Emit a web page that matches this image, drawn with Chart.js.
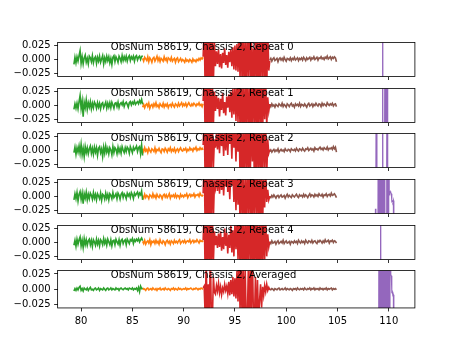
<!DOCTYPE html>
<html>
<head>
<meta charset="utf-8">
<script src="https://cdn.jsdelivr.net/npm/chart.js@4"></script>
<style>
body { margin: 0; background: #fff; }
#wrap { position: relative; width: 461px; height: 346px; overflow: hidden; background: #fff; }
canvas { position: absolute; left: 0; }
</style>
</head>
<body>
<div id="wrap"></div>
<script>
// channel grid of each band (GHz)
const bandStart = [79.3, 86.0, 91.9, 98.4, 108.5];
const bandStep = [0.1, 0.1, 0.1, 0.1, 0.05];
const bandColors = ["#2ca02c", "#ff7f0e", "#d62728", "#8c564b", "#9467bd"];
const bandWidths = [1.6, 1.6, 1.6, 1.6, 1.1];

const panelTitles = [
  "ObsNum 58619, Chassis 2, Repeat 0",
  "ObsNum 58619, Chassis 2, Repeat 1",
  "ObsNum 58619, Chassis 2, Repeat 2",
  "ObsNum 58619, Chassis 2, Repeat 3",
  "ObsNum 58619, Chassis 2, Repeat 4",
  "ObsNum 58619, Chassis 2, Averaged",
];
const xTicks = [80, 85, 90, 95, 100, 105, 110];
const yTicks = [-0.025, 0, 0.025];

// spectra, in units of 1e-3
const green0 = [-9,4,-6,5,-3,7,16,-7,5,-8, 3,8,-5,2,-8,6,3,-4,7,-6, 2,5,-7,4,-3,6,-5,1,7,-8, 3,-4,6,-2,5,-6,2,-9,4,7, -4,5,1,-5,6,2,-4,7,-2,5, -1,6,-3,4,7,-2,5,1,6,-3, 5,7,-1,4,6,0,5,7];
const orange0 = [2,-3,4,1,-2,5,-4,3,0,-5, 2,4,-3,1,6,-2,3,-4,2,0, -3,5,-1,2,-4,3,1,-2,4,-3, 0,2,-5,1,3,-4,-1,2,-3,0, -2,-5,1,-3,-1,-4,0,-2,-5,1, -3,-1,-4,0,-2,2,-1,3,1,4];
const red0 = [5,60,-60,55,-58,62,-50,58,-65,45,-40,30, -12,15,-8,18,-14,10,-16,12,-6,20,-10,8,-15,14,-5,18,-12,22,-18,25,-20,28,-22, 40,-35,50,-45,60,-55,35,-60,58,-30,62,-48,55,-62,20,-58,60,-40,52,-65,45,-50,58,-38,62,-55,48,-60,55,-20,-2];
const brown0 = [-1,2,-3,1,3,-2,0,2,-4,1, 3,-1,2,-2,4,0,-3,2,1,-1, 3,-2,2,0,4,-1,1,3,-2,2, 0,3,-1,4,1,-2,3,0,2,4, -1,3,1,5,0,2,4,-1,3,2, 5,1,3,0,4,2,6,1,3,5, 0,4,2,5,3,-4];
const purple0 = [
  -300,-300,-300,-300,-300,-300,-300,-300,-300,-300,
  -300,-300,-300,-300,-300,-300,-300,-300,300,-300,
  -300,-300,-300,-300,-300,-300,-300,-300,-300,-300,
  -300,-300,-300,-300,-300,-300,-300,-300,-300,-300,
  -300,-300,-300,-300,-300,-300,-300,-300,-300,-300];

const green1 = [-7,3,-5,4,-6,7,18,-5,8,-20, 6,-4,10,-7,5,-3,7,-6,4,-4, 6,2,-5,5,-3,4,-6,3,5,-4, 1,6,-5,4,-3,5,-4,6,1,-5, 4,5,-2,6,-4,3,5,1,7,-2, 4,6,2,-3,5,7,1,6,3,8, 2,5,7,3,9,5,11,2];
const orange1 = [-3,2,-4,1,3,-2,4,-5,0,2, -3,3,-1,5,-2,1,-4,3,0,-2, 4,-3,2,-1,3,-4,1,2,-2,4, 0,-3,3,1,-2,4,-1,2,5,-1, 3,0,4,-2,2,5,1,-1,3,0, 4,2,-1,3,1,5,0,2,-2,3];
const red1 = [8,55,-62,60,-48,65,-58,50,-60,42,-35,25, -10,18,-6,14,-20,12,-8,22,-14,6,-18,16,-4,20,-12,25,-22,30,-16,35,-28,40,-30, 55,-45,62,-60,38,-65,58,-40,60,-55,30,-62,50,-58,65,-35,48,-60,55,-45,62,-50,40,-58,60,-25,45,-38,15,-10,3];
const brown1 = [2,-2,3,-1,1,-3,2,0,-2,3, 1,-1,4,-2,2,0,-3,3,1,-2, 2,4,-1,1,-3,3,0,2,-1,4, -2,2,1,-1,3,0,-3,2,4,-1, 1,3,-2,2,0,4,1,-1,3,2, -2,4,0,3,1,-1,5,2,0,3, 1,4,-1,2,3,-2];
const purple1 = [
  -300,-300,-300,-300,-300,-300,-300,-300,-300,-300,
  -300,-300,-300,-300,-300,-300,-300,-300,300,-300,
  -300,-300,-300,300,-300,-300,-300,300,-300,-300,
  -300,-300,-300,-300,-300,-300,-300,-300,-300,-300,
  -300,-300,-300,-300,-300,-300,-300,-300,-300,-300];

const green2 = [-4,6,-7,5,-3,8,-5,11,-8,4, -11,7,-4,5,-6,3,8,-5,4,-7, 6,-3,5,-9,4,7,-4,3,-11,6, -5,8,-3,4,-6,5,1,-8,7,-4, 5,2,-6,6,-3,4,-5,7,1,-4, 5,-2,6,3,-5,7,2,-4,6,1, 4,8,-2,5,7,-6,10,-9];
const orange2 = [3,-2,5,-1,2,-4,4,0,-3,3, 1,-2,5,-3,2,0,4,-1,-4,3, 2,-2,4,1,-3,3,0,5,-2,2, -1,4,-3,1,3,-2,2,5,0,-1, 3,1,4,-2,2,0,5,1,3,-1, 4,2,6,0,3,1,5,2,4,1];
const red2 = [10,58,-60,62,-55,50,-62,60,-45,55,-30,20, 5,30,2,35,-5,40,8,32,-10,38,0,45,-8,36,12,42,-15,50,5,38,-20,45,-2, 60,-50,55,-62,40,-58,62,-35,50,-60,58,-45,65,-20,55,-62,48,-55,60,-40,62,-58,35,-50,55,-30,40,-45,20,-5,2];
const brown2 = [-2,1,-3,0,2,-2,1,-1,3,-3, 0,2,-1,1,-2,3,0,-1,2,1, -2,3,1,0,2,-1,4,1,-1,3, 2,0,4,1,-1,3,2,5,0,2, 4,1,3,-1,5,2,3,1,4,6, 2,4,1,5,3,2,6,1,4,3, 5,2,7,3,6,-3];
const purple2 = [
  -300,-300,-300,-300,-300,-300,300,-300,-300,-300,
  -300,-300,-300,-300,-300,-300,-300,-300,300,-300,
  -300,-300,-300,-300,-300,-300,-300,300,-300,-300,
  -300,-300,-300,-300,-300,-300,-300,-300,-300,-300,
  -300,-300,-300,-300,-300,-300,-300,-300,-300,-300];

const green3 = [-6,5,-4,7,-8,4,9,-5,6,-13, 5,-3,8,-6,4,-4,6,2,-5,7, -3,4,-6,5,1,-4,6,-7,4,2, -5,6,-3,4,-6,5,2,-4,7,-2, 1,5,-4,6,2,-5,4,7,-2,5, 2,-4,6,1,5,-2,7,3,-4,6, 2,5,8,0,6,3,10,-6];
const orange3 = [1,-3,4,-2,2,0,-4,3,1,-2, 5,-1,2,-3,4,0,-2,3,1,-4, 2,4,-1,3,-2,1,5,-3,2,0, 3,-1,4,-2,2,1,-3,4,0,2, -1,3,1,5,-2,2,4,0,3,1, 5,-1,3,2,4,0,6,2,1,3];
const red3 = [6,62,-58,55,-62,48,-60,58,-50,60,-40,25, 15,40,10,45,5,50,12,38,2,42,18,55,8,36,-5,45,20,52,-10,40,-25,48,-15, 58,-55,62,-40,50,-62,35,-58,60,-30,55,-60,45,-50,62,-45,58,-35,50,-62,40,-55,60,-48,30,-20,45,-10,12,-6,1];
const brown3 = [0,-2,2,-1,3,0,-3,1,2,-2, 1,3,-1,0,2,-3,1,4,-1,2, 0,-2,3,1,-1,2,4,0,-2,3, 1,2,-1,4,0,3,1,-2,2,5, 0,3,2,-1,4,1,3,0,5,2, 1,4,-1,3,2,5,0,3,4,1, 6,2,3,5,2,-2];
const purple3 = [
  -300,-300,-300,-300,-22,-300,-300,-300,-300,-300,
  300,-300,300,-300,300,-300,300,-300,300,-300,
  300,-300,300,-300,-300,-300,300,-300,300,-300,
  300,8,6,9,7,5,-9,-8,-10,-7,
  -300,-300,-300,-300,-300,-300,-300,-300,-300,-300];

const green4 = [-5,4,-7,6,-3,5,10,-6,4,-9, 7,-4,5,-5,3,6,-4,4,-7,5, 1,-5,6,-3,4,-6,5,2,-4,7, -2,4,-5,6,1,-4,5,-6,3,4, -4,6,1,-3,5,-5,4,6,-2,3, 5,-4,6,2,-2,5,3,7,-2,5, 2,6,3,7,1,5,8,3];
const orange4 = [2,-2,4,-3,1,3,-1,5,-4,2, 0,3,-2,4,-1,2,-3,5,0,-2, 3,1,-4,2,4,-1,2,-3,3,1, -2,4,0,2,-1,3,5,-2,1,3, 0,4,-1,2,3,1,5,-1,2,4, 0,3,1,5,2,-1,4,2,3,1];
const red4 = [4,58,-62,60,-55,62,-48,55,-60,50,-35,20, -5,12,-10,16,-8,20,-15,10,-12,25,-6,18,-20,14,-10,30,-18,22,-25,35,-12,40,-30, 55,-60,62,-45,58,-62,40,-55,60,-50,65,-38,48,-62,55,-58,60,-42,50,-60,35,-48,62,-55,45,-30,40,-25,15,-8,2];
const brown4 = [1,-2,3,-1,0,2,-3,1,3,-2, 0,2,-1,4,-2,1,3,-1,0,2, -3,2,1,-1,3,0,2,-2,4,1, -1,3,0,2,-2,4,1,-1,3,2, 0,4,-1,2,3,0,-2,3,1,4, 2,-1,3,0,5,1,2,4,-1,3, 2,4,0,3,2,-1];
const purple4 = [
  -300,-300,-300,-300,-300,-300,-300,-300,-300,-300,
  -300,-300,-300,-300,300,-300,-300,-300,-300,-300,
  -300,-300,-300,-300,-300,-300,-300,-300,-300,-300,
  -300,-300,-300,-300,-300,-300,-300,-300,-300,-300,
  -300,-300,-300,-300,-300,-300,-300,-300,-300,-300];

const green5 = [-3,1,-2,2,-1,3,5,-2,1,-3, 2,0,-1,2,-2,1,3,-1,0,-2, 1,2,-1,0,2,-2,1,0,-1,2, 0,-2,1,2,-1,0,2,-1,1,0, -1,2,0,1,-2,1,2,0,-1,1, 2,0,1,-1,2,1,0,2,-1,1, 0,2,-2,3,-4,5,1,2];
const orange5 = [-1,1,0,-2,1,2,-1,0,1,-1, 2,0,-1,1,-2,1,0,2,-1,0, 1,-1,2,0,-1,1,0,-2,1,0, 2,-1,1,0,-1,2,0,1,-1,0, 1,0,2,-1,1,0,1,2,0,-1, 1,0,2,1,-1,1,0,2,1,0];
const red5 = [2,5,-45,50,-60,8,-55,62,-40,-50,20,-5, -8,6,-3,10,-6,4,-9,2,-4,8,-2,5,-7,12,-10,15,-8,20,-12,18,-15,30,-20, 45,-35,50,-55,40,-62,35,-50,-60,30,-58,55,-45,60,-40,-55,20,-62,15,-48,-20,8,-30,4,-10,6,-4,8,-2,3,-1];
const brown5 = [0,-1,1,0,-2,1,0,-1,1,2, -1,0,1,-1,0,2,-1,1,0,-1, 1,0,-2,1,0,1,-1,2,0,-1, 1,0,1,-1,2,0,-1,1,0,2, -1,1,0,2,-1,1,0,1,-1,2, 0,1,-1,1,0,2,-1,1,0,1, 2,-1,1,0,1,-1];
const purple5 = [
  -300,-300,-300,-300,-300,-300,-300,-300,-300,-300,
  -300,300,-300,300,-300,300,-300,300,-300,300,
  -300,300,-300,300,-300,300,-300,-300,-300,300,
  -300,300,-300,300,24,22,-5,-4,-10,-9,
  -300,-300,-300,-300,-300,-300,-300,-300,-300,-300];

const panels = [
  [green0, orange0, red0, brown0, purple0],
  [green1, orange1, red1, brown1, purple1],
  [green2, orange2, red2, brown2, purple2],
  [green3, orange3, red3, brown3, purple3],
  [green4, orange4, red4, brown4, purple4],
  [green5, orange5, red5, brown5, purple5],
];

// figure geometry (matplotlib default subplot params)
const W = 461, H = 346;
const axLeft = 0.125 * W, axRight = 0.9 * W;
const axTop = 0.12 * H, axBottom = 0.89 * H;
const hspace = 0.2;
const ph = (axBottom - axTop) / (panels.length + (panels.length - 1) * hspace);
const gap = ph * hspace;

Chart.defaults.font.family = "'DejaVu Sans'";
Chart.defaults.font.size = 10;
Chart.defaults.color = "#000";

const framePlugin = {
  id: "panelFrame",
  afterDatasetsDraw(chart, args, opts) {
    const { ctx, chartArea: a } = chart;
    ctx.save();
    ctx.strokeStyle = "#000";
    ctx.lineWidth = 0.8;
    ctx.strokeRect(a.left, a.top, a.right - a.left, a.bottom - a.top);
    ctx.fillStyle = "#000";
    ctx.font = "10px 'DejaVu Sans'";
    ctx.textAlign = "left";
    ctx.textBaseline = "alphabetic";
    ctx.fillText(opts.title, chart.scales.x.getPixelForValue(opts.titleX), a.top + 7.6);
    ctx.restore();
  },
};

const wrap = document.getElementById("wrap");

panels.forEach((bands, p) => {
  const isLast = p === panels.length - 1;
  const T = axTop + p * (ph + gap);
  const cTop = Math.floor(T) - 8;
  const padTop = T - cTop;
  const cH = Math.ceil(padTop + ph + (isLast ? 30 : 6));
  const xH = cH - padTop - ph;

  const cv = document.createElement("canvas");
  cv.width = W;
  cv.height = cH;
  cv.style.top = cTop + "px";
  cv.style.width = W + "px";
  cv.style.height = cH + "px";
  wrap.appendChild(cv);

  const datasets = bands.map((vals, b) => ({
    data: vals.map((v, i) => ({ x: bandStart[b] + i * bandStep[b], y: v / 1000 })),
    borderColor: bandColors[b],
    borderWidth: bandWidths[b],
    pointRadius: 0,
    fill: false,
    tension: 0,
    clip: 0,
  }));

  new Chart(cv, {
    type: "line",
    data: { datasets },
    options: {
      responsive: false,
      animation: false,
      events: [],
      layout: { padding: { left: 0, right: W - axRight, top: padTop, bottom: 0 } },
      plugins: {
        legend: { display: false },
        tooltip: { enabled: false },
        panelFrame: { title: panelTitles[p], titleX: 82.9 },
      },
      scales: {
        x: {
          type: "linear",
          min: 77.71,
          max: 112.55,
          afterBuildTicks: (s) => { s.ticks = xTicks.map((v) => ({ value: v })); },
          afterFit: (s) => { s.height = xH; },
          grid: { drawOnChartArea: false, drawTicks: true, tickLength: 3.5, color: "#000", lineWidth: 0.8 },
          border: { display: false },
          ticks: {
            display: isLast,
            padding: 3.5,
            maxRotation: 0,
            autoSkip: false,
            color: "#000",
            callback: (v) => String(v),
          },
        },
        y: {
          type: "linear",
          min: -0.0307,
          max: 0.0307,
          afterBuildTicks: (s) => { s.ticks = yTicks.map((v) => ({ value: v })); },
          afterFit: (s) => { s.width = axLeft; },
          grid: { drawOnChartArea: false, drawTicks: true, tickLength: 3.5, color: "#000", lineWidth: 0.8 },
          border: { display: false },
          ticks: {
            padding: 3.5,
            color: "#000",
            callback: (v) => v.toFixed(3).replace("-", "\u2212"),
          },
        },
      },
    },
    plugins: [framePlugin],
  });
});
</script>
</body>
</html>
